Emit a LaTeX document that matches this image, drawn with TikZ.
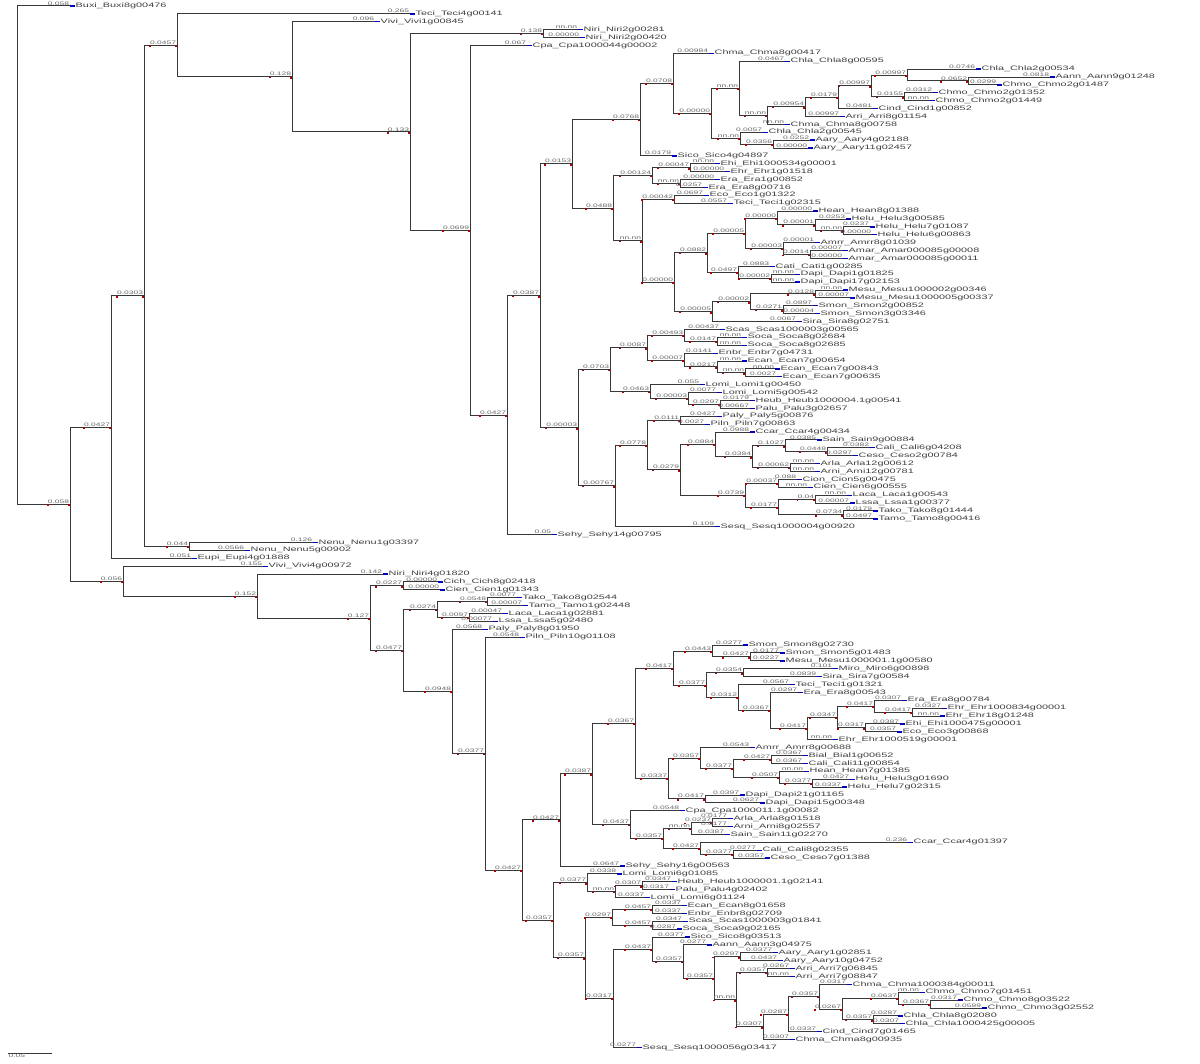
\documentclass[tikz,border=0pt]{standalone}
\usepackage{fontspec}
\newfontfamily\txfont[FakeStretch=1.7]{Liberation Sans}
\usetikzlibrary{calc,positioning}

% leaf: name, row, tip x, text
\newcommand\taxon[4]{%
  \coordinate (#1) at (#3,{6+7.89*#2});
  \node[taxon,right=5pt of #1] (#1t) {#4};}
% inner node: name, x, first child, last child
\newcommand\inode[4]{%
  \path let \p1=(#3), \p2=(#4) in coordinate (#1) at (#2pt,{(\y1+\y2)/2});}
\newcommand\leafedge[3]{%
  \draw[branch] (#1) |- (#2) node[blen] {#3};
  \draw[tipmark] (#2) -- ++(4.5,0);}
\newcommand\nodeedge[3]{%
  \draw[branch] (#1) |- (#2) node[blen] (#2b) {#3};
  \fill[nodemark] (#2) ++(-1.8,0) rectangle ++(1.8,1.8);
  \fill[nodemark] (#2b.south west) rectangle ++(1.6,1.6);}

\begin{document}
\begin{tikzpicture}[x=1pt,y=-1pt,
    branch/.style={draw=black!78,line width=1pt},
    blen/.style={font=\txfont\fontsize{5}{5}\selectfont,text=black!60,inner sep=0.4pt,anchor=south east},
    taxon/.style={font=\txfont\fontsize{6.4}{6.4}\selectfont,text=black!75,inner xsep=0.5pt,inner ysep=0pt},
    tipmark/.style={draw=blue!75!black,line width=1.3pt},
    nodemark/.style={fill=red!70!black}]
\useasboundingbox (0,0) rectangle (1200,1064);

% leaves
\taxon{l0}{0}{70}{Buxi\_Buxi8g00476}
\taxon{l1}{1}{410}{Teci\_Teci4g00141}
\taxon{l2}{2}{375}{Vivi\_Vivi1g00845}
\taxon{l3}{3}{578}{Niri\_Niri2g00281}
\taxon{l4}{4}{580}{Niri\_Niri2g00420}
\taxon{l5}{5}{527}{Cpa\_Cpa1000044g00002}
\taxon{l6}{6}{709}{Chma\_Chma8g00417}
\taxon{l7}{7}{785}{Chla\_Chla8g00595}
\taxon{l8}{8}{976}{Chla\_Chla2g00534}
\taxon{l9}{9}{1050}{Aann\_Aann9g01248}
\taxon{l10}{10}{997}{Chmo\_Chmo2g01487}
\taxon{l11}{11}{933}{Chmo\_Chmo2g01352}
\taxon{l12}{12}{930}{Chmo\_Chmo2g01449}
\taxon{l13}{13}{873}{Cind\_Cind1g00852}
\taxon{l14}{14}{840}{Arri\_Arri8g01154}
\taxon{l15}{15}{785}{Chma\_Chma8g00758}
\taxon{l16}{16}{763}{Chla\_Chla2g00545}
\taxon{l17}{17}{810}{Aary\_Aary4g02188}
\taxon{l18}{18}{808}{Aary\_Aary11g02457}
\taxon{l19}{19}{672}{Sico\_Sico4g04897}
\taxon{l20}{20}{715}{Ehi\_Ehi1000534g00001}
\taxon{l21}{21}{725}{Ehr\_Ehr1g01518}
\taxon{l22}{22}{715}{Era\_Era1g00852}
\taxon{l23}{23}{703}{Era\_Era8g00716}
\taxon{l24}{24}{704}{Eco\_Eco1g01322}
\taxon{l25}{25}{728}{Teci\_Teci1g02315}
\taxon{l26}{26}{813}{Hean\_Hean8g01388}
\taxon{l27}{27}{846}{Helu\_Helu3g00585}
\taxon{l28}{28}{870}{Helu\_Helu7g01087}
\taxon{l29}{29}{872}{Helu\_Helu6g00863}
\taxon{l30}{30}{815}{Amrr\_Amrr8g01039}
\taxon{l31}{31}{843}{Amar\_Amar000085g00008}
\taxon{l32}{32}{843}{Amar\_Amar000085g00011}
\taxon{l33}{33}{770}{Cati\_Cati1g00285}
\taxon{l34}{34}{795}{Dapi\_Dapi1g01825}
\taxon{l35}{35}{795}{Dapi\_Dapi17g02153}
\taxon{l36}{36}{843}{Mesu\_Mesu1000002g00346}
\taxon{l37}{37}{850}{Mesu\_Mesu1000005g00337}
\taxon{l38}{38}{813}{Smon\_Smon2g00852}
\taxon{l39}{39}{815}{Smon\_Smon3g03346}
\taxon{l40}{40}{797}{Sira\_Sira8g02751}
\taxon{l41}{41}{720}{Scas\_Scas1000003g00565}
\taxon{l42}{42}{742}{Soca\_Soca8g02684}
\taxon{l43}{43}{742}{Soca\_Soca8g02685}
\taxon{l44}{44}{713}{Enbr\_Enbr7g04731}
\taxon{l45}{45}{742}{Ecan\_Ecan7g00654}
\taxon{l46}{46}{775}{Ecan\_Ecan7g00843}
\taxon{l47}{47}{777}{Ecan\_Ecan7g00635}
\taxon{l48}{48}{700}{Lomi\_Lomi1g00450}
\taxon{l49}{49}{717}{Lomi\_Lomi5g00542}
\taxon{l50}{50}{750}{Heub\_Heub1000004.1g00541}
\taxon{l51}{51}{750}{Palu\_Palu3g02657}
\taxon{l52}{52}{717}{Paly\_Paly5g00876}
\taxon{l53}{53}{705}{Piln\_Piln7g00863}
\taxon{l54}{54}{750}{Ccar\_Ccar4g00434}
\taxon{l55}{55}{817}{Sain\_Sain9g00884}
\taxon{l56}{56}{870}{Cali\_Cali6g04208}
\taxon{l57}{57}{853}{Ceso\_Ceso2g00784}
\taxon{l58}{58}{815}{Arla\_Arla12g00612}
\taxon{l59}{59}{815}{Arni\_Arni12g00781}
\taxon{l60}{60}{797}{Cion\_Cion5g00475}
\taxon{l61}{61}{808}{Cien\_Cien6g00555}
\taxon{l62}{62}{847}{Laca\_Laca1g00543}
\taxon{l63}{63}{850}{Lssa\_Lssa1g00377}
\taxon{l64}{64}{873}{Tako\_Tako8g01444}
\taxon{l65}{65}{873}{Tamo\_Tamo8g00416}
\taxon{l66}{66}{715}{Sesq\_Sesq1000004g00920}
\taxon{l67}{67}{552}{Sehy\_Sehy14g00795}
\taxon{l68}{68}{313}{Nenu\_Nenu1g03397}
\taxon{l69}{69}{245}{Nenu\_Nenu5g00902}
\taxon{l70}{70}{192}{Eupi\_Eupi4g01888}
\taxon{l71}{71}{263}{Vivi\_Vivi4g00972}
\taxon{l72}{72}{383}{Niri\_Niri4g01820}
\taxon{l73}{73}{438}{Cich\_Cich8g02418}
\taxon{l74}{74}{440}{Cien\_Cien1g01343}
\taxon{l75}{75}{517}{Tako\_Tako8g02544}
\taxon{l76}{76}{523}{Tamo\_Tamo1g02448}
\taxon{l77}{77}{503}{Laca\_Laca1g02881}
\taxon{l78}{78}{493}{Lssa\_Lssa5g02480}
\taxon{l79}{79}{483}{Paly\_Paly8g01950}
\taxon{l80}{80}{520}{Piln\_Piln10g01108}
\taxon{l81}{81}{743}{Smon\_Smon8g02730}
\taxon{l82}{82}{780}{Smon\_Smon5g01483}
\taxon{l83}{83}{780}{Mesu\_Mesu1000001.1g00580}
\taxon{l84}{84}{833}{Miro\_Miro6g00898}
\taxon{l85}{85}{817}{Sira\_Sira7g00584}
\taxon{l86}{86}{790}{Teci\_Teci1g01321}
\taxon{l87}{87}{798}{Era\_Era8g00543}
\taxon{l88}{88}{902}{Era\_Era8g00784}
\taxon{l89}{89}{942}{Ehr\_Ehr1000834g00001}
\taxon{l90}{90}{940}{Ehr\_Ehr18g01248}
\taxon{l91}{91}{900}{Ehi\_Ehi1000475g00001}
\taxon{l92}{92}{897}{Eco\_Eco3g00868}
\taxon{l93}{93}{833}{Ehr\_Ehr1000519g00001}
\taxon{l94}{94}{750}{Amrr\_Amrr8g00688}
\taxon{l95}{95}{803}{Bial\_Bial1g00652}
\taxon{l96}{96}{803}{Cali\_Cali11g00854}
\taxon{l97}{97}{804}{Hean\_Hean7g01385}
\taxon{l98}{98}{850}{Helu\_Helu3g01690}
\taxon{l99}{99}{842}{Helu\_Helu7g02315}
\taxon{l100}{100}{740}{Dapi\_Dapi21g01165}
\taxon{l101}{101}{760}{Dapi\_Dapi15g00348}
\taxon{l102}{102}{680}{Cpa\_Cpa1000011.1g00082}
\taxon{l103}{103}{728}{Arla\_Arla8g01518}
\taxon{l104}{104}{728}{Arni\_Arni8g02557}
\taxon{l105}{105}{725}{Sain\_Sain11g02270}
\taxon{l106}{106}{908}{Ccar\_Ccar4g01397}
\taxon{l107}{107}{757}{Cali\_Cali8g02355}
\taxon{l108}{108}{765}{Ceso\_Ceso7g01388}
\taxon{l109}{109}{620}{Sehy\_Sehy16g00563}
\taxon{l110}{110}{617}{Lomi\_Lomi6g01085}
\taxon{l111}{111}{672}{Heub\_Heub1000001.1g02141}
\taxon{l112}{112}{670}{Palu\_Palu4g02402}
\taxon{l113}{113}{645}{Lomi\_Lomi6g01124}
\taxon{l114}{114}{682}{Ecan\_Ecan8g01658}
\taxon{l115}{115}{682}{Enbr\_Enbr8g02709}
\taxon{l116}{116}{683}{Scas\_Scas1000003g01841}
\taxon{l117}{117}{677}{Soca\_Soca9g02165}
\taxon{l118}{118}{685}{Sico\_Sico8g03513}
\taxon{l119}{119}{707}{Aann\_Aann3g04975}
\taxon{l120}{120}{773}{Aary\_Aary1g02851}
\taxon{l121}{121}{778}{Aary\_Aary10g04752}
\taxon{l122}{122}{790}{Arri\_Arri7g06845}
\taxon{l123}{123}{790}{Arri\_Arri7g08847}
\taxon{l124}{124}{847}{Chma\_Chma1000384g00011}
\taxon{l125}{125}{920}{Chmo\_Chmo7g01451}
\taxon{l126}{126}{958}{Chmo\_Chmo8g03522}
\taxon{l127}{127}{982}{Chmo\_Chmo3g02552}
\taxon{l128}{128}{898}{Chla\_Chla8g02080}
\taxon{l129}{129}{900}{Chla\_Chla1000425g00005}
\taxon{l130}{130}{817}{Cind\_Cind7g01465}
\taxon{l131}{131}{790}{Chma\_Chma8g00935}
\taxon{l132}{132}{637}{Sesq\_Sesq1000056g03417}

% inner nodes, upper clade
\inode{nx}{968}{l9}{l10}
\inode{nv}{907}{l8}{nx}
\inode{nw}{904}{l11}{l12}
\inode{nu}{871}{nv}{nw}
\inode{nt}{838}{nu}{l13}
\inode{ns}{805}{nt}{l14}
\inode{nr}{767}{ns}{l15}
\inode{np}{739}{l7}{nr}
\inode{naary}{773}{l17}{l18}
\inode{nq}{740}{l16}{naary}
\inode{nm2}{711}{np}{nq}
\inode{nm1}{673}{l6}{nm2}
\inode{nm}{640}{nm1}{l19}
\inode{nehr}{690}{l20}{l21}
\inode{nera}{680}{l22}{l23}
\inode{nn1}{652}{nehr}{nera}
\inode{ntec}{674}{l24}{l25}
\inode{nhel}{843}{l28}{l29}
\inode{nn9}{815}{l27}{nhel}
\inode{nn8}{777}{l26}{nn9}
\inode{namar}{810}{l31}{l32}
\inode{namr}{783}{l30}{namar}
\inode{nn6}{745}{nn8}{namr}
\inode{ndapi}{771}{l34}{l35}
\inode{nn7}{738}{l33}{ndapi}
\inode{nn4}{707}{nn6}{nn7}
\inode{nmesu}{815}{l36}{l37}
\inode{nsmon}{783}{l38}{l39}
\inode{nn10}{750}{nmesu}{nsmon}
\inode{nn5}{712}{nn10}{l40}
\inode{nn3}{674}{nn4}{nn5}
\inode{nn2}{642}{ntec}{nn3}
\inode{nn}{613}{nn1}{nn2}
\inode{nk1}{572}{nm}{nn}
\inode{nsc2}{717}{l42}{l43}
\inode{nsc1}{684}{l41}{nsc2}
\inode{nen3}{745}{l46}{l47}
\inode{nen2}{717}{l45}{nen3}
\inode{nen1}{684}{l44}{nen2}
\inode{nsn}{647}{nsc1}{nen1}
\inode{nlo3}{720}{l50}{l51}
\inode{nlo2}{688}{l49}{nlo3}
\inode{nlo1}{650}{l48}{nlo2}
\inode{nk3}{610}{nsn}{nlo1}
\inode{npal}{680}{l52}{l53}
\inode{ncal}{827}{l56}{l57}
\inode{nsain}{785}{l55}{ncal}
\inode{narl}{790}{l58}{l59}
\inode{nk8}{752}{nsain}{narl}
\inode{nk7}{715}{l54}{nk8}
\inode{ncio}{778}{l60}{l61}
\inode{nlac}{815}{l62}{l63}
\inode{ntak}{843}{l64}{l65}
\inode{nln}{778}{nlac}{ntak}
\inode{ncn}{745}{ncio}{nln}
\inode{nk6}{680}{nk7}{ncn}
\inode{nk5}{647}{npal}{nk6}
\inode{nk4}{615}{nk5}{l66}
\inode{nk2}{578}{nk3}{nk4}
\inode{nk}{540}{nk1}{nk2}
\inode{nj}{507}{nk}{l67}
\inode{ni}{470}{l5}{nj}
\inode{nniri}{543}{l3}{l4}
\inode{nh}{410}{nniri}{ni}
\inode{ng}{292}{l2}{nh}
\inode{ne}{177}{l1}{ng}
\inode{nf}{189}{l68}{l69}
\inode{nd}{144}{ne}{nf}
\inode{nb}{111}{nd}{l70}
% inner nodes, lower clade
\inode{ncic}{403}{l73}{l74}
\inode{ntl1}{487}{l75}{l76}
\inode{ntl2}{469}{l77}{l78}
\inode{ntl}{437}{ntl1}{ntl2}
\inode{nsm2}{750}{l82}{l83}
\inode{nsm1}{712}{l81}{nsm2}
\inode{nmi}{743}{l84}{l85}
\inode{ns8}{912}{l89}{l90}
\inode{ns7}{874}{l88}{ns8}
\inode{ns9}{865}{l91}{l92}
\inode{ns6}{837}{ns7}{ns9}
\inode{ns5}{807}{ns6}{l93}
\inode{ns4}{770}{l87}{ns5}
\inode{ns3}{738}{l86}{ns4}
\inode{ns2}{706}{nmi}{ns3}
\inode{ns1}{673}{nsm1}{ns2}
\inode{nbi}{771}{l95}{l96}
\inode{nhe2}{812}{l98}{l99}
\inode{nhe}{779}{l97}{nhe2}
\inode{nb3}{733}{nbi}{nhe}
\inode{nb2}{700}{l94}{nb3}
\inode{nda}{705}{l100}{l101}
\inode{nb1}{668}{nb2}{nda}
\inode{nc9}{635}{ns1}{nb1}
\inode{nar2}{712}{l103}{l104}
\inode{nar1}{691}{nar2}{l105}
\inode{ncal2}{733}{l107}{l108}
\inode{ncc1}{700}{l106}{ncal2}
\inode{nc11}{663}{nar1}{ncc1}
\inode{nc10}{630}{l102}{nc11}
\inode{nc8}{592}{nc9}{nc10}
\inode{nc7}{560}{nc8}{l109}
\inode{nhp2}{642}{l111}{l112}
\inode{nhp}{615}{nhp2}{l113}
\inode{nlm}{587}{l110}{nhp}
\inode{nec}{652}{l114}{l115}
\inode{nsc}{652}{l116}{l117}
\inode{nen}{612}{nec}{nsc}
\inode{naa}{740}{l120}{l121}
\inode{narr}{767}{l122}{l123}
\inode{ncm2}{930}{l126}{l127}
\inode{ncm}{898}{l125}{ncm2}
\inode{ncl}{873}{l128}{l129}
\inode{nc21}{842}{ncm}{ncl}
\inode{nc20}{819}{l124}{nc21}
\inode{nc19}{788}{nc20}{l130}
\inode{nc22}{763}{nc19}{l131}
\inode{nc18}{736}{narr}{nc22}
\inode{nc17}{714}{naa}{nc18}
\inode{nc16}{683}{l119}{nc17}
\inode{nc15}{652}{l118}{nc16}
\inode{nc14}{613}{nc15}{l132}
\inode{nc13}{585}{nen}{nc14}
\inode{nc12}{553}{nlm}{nc13}
\inode{nc6}{522}{nc7}{nc12}
\inode{nc5}{485}{l80}{nc6}
\inode{nc4}{452}{l79}{nc5}
\inode{nc3}{403}{ntl}{nc4}
\inode{nc2}{370}{ncic}{nc3}
\inode{nc1}{257}{l72}{nc2}
\inode{nc}{123}{l71}{nc1}
\inode{na}{70}{nb}{nc}
\inode{nroot}{17}{l0}{na}

% branches
\leafedge{nroot}{l0}{0.058}
\nodeedge{nroot}{na}{0.058}
\nodeedge{na}{nb}{0.0427}
\nodeedge{na}{nc}{0.056}
\nodeedge{nb}{nd}{0.0303}
\leafedge{nb}{l70}{0.051}
\nodeedge{nd}{ne}{0.0457}
\nodeedge{nd}{nf}{0.044}
\leafedge{nf}{l68}{0.126}
\leafedge{nf}{l69}{0.0566}
\leafedge{ne}{l1}{0.265}
\nodeedge{ne}{ng}{0.128}
\leafedge{ng}{l2}{0.096}
\nodeedge{ng}{nh}{0.133}
\nodeedge{nh}{nniri}{0.138}
\nodeedge{nh}{ni}{0.0699}
\leafedge{nniri}{l3}{nn.nn}
\leafedge{nniri}{l4}{0.00000}
\leafedge{ni}{l5}{0.067}
\nodeedge{ni}{nj}{0.0427}
\nodeedge{nj}{nk}{0.0387}
\leafedge{nj}{l67}{0.05}
\nodeedge{nk}{nk1}{0.0153}
\nodeedge{nk}{nk2}{0.00003}
\nodeedge{nk1}{nm}{0.0768}
\nodeedge{nk1}{nn}{0.0488}
\nodeedge{nm}{nm1}{0.0708}
\leafedge{nm}{l19}{0.0179}
\leafedge{nm1}{l6}{0.00984}
\nodeedge{nm1}{nm2}{0.00000}
\nodeedge{nm2}{np}{nn.nn}
\nodeedge{nm2}{nq}{nn.nn}
\leafedge{np}{l7}{0.0467}
\nodeedge{np}{nr}{nn.nn}
\nodeedge{nr}{ns}{0.00954}
\leafedge{nr}{l15}{nn.nn}
\nodeedge{ns}{nt}{0.0179}
\leafedge{ns}{l14}{0.00997}
\nodeedge{nt}{nu}{0.00997}
\leafedge{nt}{l13}{0.0481}
\nodeedge{nu}{nv}{0.00997}
\nodeedge{nu}{nw}{0.0155}
\leafedge{nv}{l8}{0.0746}
\nodeedge{nv}{nx}{0.0652}
\leafedge{nx}{l9}{0.0818}
\leafedge{nx}{l10}{0.0299}
\leafedge{nw}{l11}{0.0312}
\leafedge{nw}{l12}{nn.nn}
\leafedge{nq}{l16}{0.0057}
\nodeedge{nq}{naary}{0.0356}
\leafedge{naary}{l17}{0.0252}
\leafedge{naary}{l18}{0.00000}
\nodeedge{nn}{nn1}{0.00124}
\nodeedge{nn}{nn2}{nn.nn}
\nodeedge{nn1}{nehr}{0.00047}
\nodeedge{nn1}{nera}{nn.nn}
\leafedge{nehr}{l20}{nn.nn}
\leafedge{nehr}{l21}{0.00000}
\leafedge{nera}{l22}{0.00000}
\leafedge{nera}{l23}{0.0257}
\nodeedge{nn2}{ntec}{0.00042}
\nodeedge{nn2}{nn3}{0.00000}
\leafedge{ntec}{l24}{0.0697}
\leafedge{ntec}{l25}{0.0557}
\nodeedge{nn3}{nn4}{0.0882}
\nodeedge{nn3}{nn5}{0.00005}
\nodeedge{nn4}{nn6}{0.00005}
\nodeedge{nn4}{nn7}{0.0497}
\nodeedge{nn6}{nn8}{0.00000}
\nodeedge{nn6}{namr}{0.00003}
\leafedge{nn8}{l26}{0.00000}
\nodeedge{nn8}{nn9}{0.00001}
\leafedge{nn9}{l27}{0.0253}
\nodeedge{nn9}{nhel}{nn.nn}
\leafedge{nhel}{l28}{0.0237}
\leafedge{nhel}{l29}{0.00000}
\leafedge{namr}{l30}{0.00001}
\nodeedge{namr}{namar}{0.0014}
\leafedge{namar}{l31}{0.00007}
\leafedge{namar}{l32}{0.00000}
\leafedge{nn7}{l33}{0.0883}
\nodeedge{nn7}{ndapi}{0.00002}
\leafedge{ndapi}{l34}{nn.nn}
\leafedge{ndapi}{l35}{nn.nn}
\nodeedge{nn5}{nn10}{0.00002}
\leafedge{nn5}{l40}{0.0067}
\nodeedge{nn10}{nmesu}{0.0128}
\nodeedge{nn10}{nsmon}{0.0271}
\leafedge{nmesu}{l36}{nn.nn}
\leafedge{nmesu}{l37}{0.00007}
\leafedge{nsmon}{l38}{0.0897}
\leafedge{nsmon}{l39}{0.00004}
\nodeedge{nk2}{nk3}{0.0703}
\nodeedge{nk2}{nk4}{0.00767}
\nodeedge{nk3}{nsn}{0.0087}
\nodeedge{nk3}{nlo1}{0.0463}
\nodeedge{nsn}{nsc1}{0.00493}
\nodeedge{nsn}{nen1}{0.00007}
\leafedge{nsc1}{l41}{0.00437}
\nodeedge{nsc1}{nsc2}{0.0147}
\leafedge{nsc2}{l42}{nn.nn}
\leafedge{nsc2}{l43}{nn.nn}
\leafedge{nen1}{l44}{0.0141}
\nodeedge{nen1}{nen2}{0.0217}
\leafedge{nen2}{l45}{nn.nn}
\nodeedge{nen2}{nen3}{nn.nn}
\leafedge{nen3}{l46}{nn.nn}
\leafedge{nen3}{l47}{0.0027}
\leafedge{nlo1}{l48}{0.055}
\nodeedge{nlo1}{nlo2}{0.00003}
\leafedge{nlo2}{l49}{0.0077}
\nodeedge{nlo2}{nlo3}{0.0297}
\leafedge{nlo3}{l50}{0.0179}
\leafedge{nlo3}{l51}{0.00667}
\nodeedge{nk4}{nk5}{0.0778}
\leafedge{nk4}{l66}{0.109}
\nodeedge{nk5}{npal}{0.0111}
\nodeedge{nk5}{nk6}{0.0279}
\leafedge{npal}{l52}{0.0427}
\leafedge{npal}{l53}{0.0027}
\nodeedge{nk6}{nk7}{0.0884}
\nodeedge{nk6}{ncn}{0.0739}
\leafedge{nk7}{l54}{0.0988}
\nodeedge{nk7}{nk8}{0.0384}
\nodeedge{nk8}{nsain}{0.1027}
\nodeedge{nk8}{narl}{0.00062}
\leafedge{nsain}{l55}{0.0385}
\nodeedge{nsain}{ncal}{0.0448}
\leafedge{ncal}{l56}{0.0382}
\leafedge{ncal}{l57}{0.0297}
\leafedge{narl}{l58}{nn.nn}
\leafedge{narl}{l59}{nn.nn}
\nodeedge{ncn}{ncio}{0.00037}
\nodeedge{ncn}{nln}{0.0177}
\leafedge{ncio}{l60}{0.088}
\leafedge{ncio}{l61}{nn.nn}
\nodeedge{nln}{nlac}{0.04}
\nodeedge{nln}{ntak}{0.0734}
\leafedge{nlac}{l62}{nn.nn}
\leafedge{nlac}{l63}{0.00007}
\leafedge{ntak}{l64}{0.0179}
\leafedge{ntak}{l65}{0.0497}
% lower clade
\leafedge{nc}{l71}{0.155}
\nodeedge{nc}{nc1}{0.152}
\leafedge{nc1}{l72}{0.142}
\nodeedge{nc1}{nc2}{0.127}
\nodeedge{nc2}{ncic}{0.0227}
\nodeedge{nc2}{nc3}{0.0477}
\leafedge{ncic}{l73}{0.00000}
\leafedge{ncic}{l74}{0.00000}
\nodeedge{nc3}{ntl}{0.0274}
\nodeedge{nc3}{nc4}{0.0948}
\nodeedge{ntl}{ntl1}{0.0548}
\nodeedge{ntl}{ntl2}{0.0097}
\leafedge{ntl1}{l75}{0.0077}
\leafedge{ntl1}{l76}{0.00007}
\leafedge{ntl2}{l77}{0.00047}
\leafedge{ntl2}{l78}{0.00077}
\leafedge{nc4}{l79}{0.0568}
\nodeedge{nc4}{nc5}{0.0377}
\leafedge{nc5}{l80}{0.0548}
\nodeedge{nc5}{nc6}{0.0427}
\nodeedge{nc6}{nc7}{0.0427}
\nodeedge{nc6}{nc12}{0.0357}
\nodeedge{nc7}{nc8}{0.0387}
\leafedge{nc7}{l109}{0.0647}
\nodeedge{nc8}{nc9}{0.0367}
\nodeedge{nc8}{nc10}{0.0437}
\nodeedge{nc9}{ns1}{0.0417}
\nodeedge{nc9}{nb1}{0.0337}
\nodeedge{ns1}{nsm1}{0.0443}
\nodeedge{ns1}{ns2}{0.0377}
\leafedge{nsm1}{l81}{0.0277}
\nodeedge{nsm1}{nsm2}{0.0427}
\leafedge{nsm2}{l82}{0.0177}
\leafedge{nsm2}{l83}{0.0227}
\nodeedge{ns2}{nmi}{0.0354}
\nodeedge{ns2}{ns3}{0.0312}
\leafedge{nmi}{l84}{0.101}
\leafedge{nmi}{l85}{0.0839}
\leafedge{ns3}{l86}{0.0567}
\nodeedge{ns3}{ns4}{0.0367}
\leafedge{ns4}{l87}{0.0297}
\nodeedge{ns4}{ns5}{0.0417}
\nodeedge{ns5}{ns6}{0.0347}
\leafedge{ns5}{l93}{nn.nn}
\nodeedge{ns6}{ns7}{0.0417}
\nodeedge{ns6}{ns9}{0.0317}
\leafedge{ns7}{l88}{0.0307}
\nodeedge{ns7}{ns8}{0.0417}
\leafedge{ns8}{l89}{0.0327}
\leafedge{ns8}{l90}{nn.nn}
\leafedge{ns9}{l91}{0.0387}
\leafedge{ns9}{l92}{0.0357}
\nodeedge{nb1}{nb2}{0.0357}
\nodeedge{nb1}{nda}{0.0417}
\leafedge{nb2}{l94}{0.0543}
\nodeedge{nb2}{nb3}{0.0377}
\nodeedge{nb3}{nbi}{0.0427}
\nodeedge{nb3}{nhe}{0.0507}
\leafedge{nbi}{l95}{0.0367}
\leafedge{nbi}{l96}{0.0367}
\leafedge{nhe}{l97}{nn.nn}
\nodeedge{nhe}{nhe2}{0.0377}
\leafedge{nhe2}{l98}{0.0427}
\leafedge{nhe2}{l99}{0.0337}
\leafedge{nda}{l100}{0.0397}
\leafedge{nda}{l101}{0.0627}
\leafedge{nc10}{l102}{0.0548}
\nodeedge{nc10}{nc11}{0.0357}
\nodeedge{nc11}{nar1}{nn.nn}
\nodeedge{nc11}{ncc1}{0.0427}
\nodeedge{nar1}{nar2}{0.0237}
\leafedge{nar1}{l105}{0.0387}
\leafedge{nar2}{l103}{0.0177}
\leafedge{nar2}{l104}{0.0177}
\leafedge{ncc1}{l106}{0.236}
\nodeedge{ncc1}{ncal2}{0.0377}
\leafedge{ncal2}{l107}{0.0277}
\leafedge{ncal2}{l108}{0.0357}
\nodeedge{nc12}{nlm}{0.0377}
\nodeedge{nc12}{nc13}{0.0357}
\leafedge{nlm}{l110}{0.0338}
\nodeedge{nlm}{nhp}{nn.nn}
\nodeedge{nhp}{nhp2}{0.0307}
\leafedge{nhp}{l113}{0.0337}
\leafedge{nhp2}{l111}{0.0347}
\leafedge{nhp2}{l112}{0.0317}
\nodeedge{nc13}{nen}{0.0297}
\nodeedge{nc13}{nc14}{0.0317}
\nodeedge{nen}{nec}{0.0457}
\nodeedge{nen}{nsc}{0.0457}
\leafedge{nec}{l114}{0.0337}
\leafedge{nec}{l115}{0.0337}
\leafedge{nsc}{l116}{0.0347}
\leafedge{nsc}{l117}{0.0287}
\nodeedge{nc14}{nc15}{0.0437}
\leafedge{nc14}{l132}{0.0277}
\leafedge{nc15}{l118}{0.0377}
\nodeedge{nc15}{nc16}{0.0357}
\leafedge{nc16}{l119}{0.0277}
\nodeedge{nc16}{nc17}{0.0357}
\nodeedge{nc17}{naa}{0.0297}
\nodeedge{nc17}{nc18}{nn.nn}
\leafedge{naa}{l120}{0.0377}
\leafedge{naa}{l121}{0.0437}
\nodeedge{nc18}{narr}{0.0357}
\nodeedge{nc18}{nc22}{0.0307}
\leafedge{narr}{l122}{0.0267}
\leafedge{narr}{l123}{nn.nn}
\nodeedge{nc22}{nc19}{0.0287}
\leafedge{nc22}{l131}{0.0307}
\nodeedge{nc19}{nc20}{0.0357}
\leafedge{nc19}{l130}{0.0337}
\leafedge{nc20}{l124}{0.0317}
\nodeedge{nc20}{nc21}{0.0267}
\nodeedge{nc21}{ncm}{0.0637}
\nodeedge{nc21}{ncl}{0.0357}
\leafedge{ncm}{l125}{nn.nn}
\nodeedge{ncm}{ncm2}{0.0367}
\leafedge{ncm2}{l126}{0.0317}
\leafedge{ncm2}{l127}{0.0589}
\leafedge{ncl}{l128}{0.0287}
\leafedge{ncl}{l129}{0.0307}

% scale bar
\coordinate (sbl) at (8,1053);
\coordinate (sbr) at (52,1053);
\draw[branch] (sbl) -- (sbr);
\node[blen,anchor=north west] (sbt) at (sbl) {0.05};
\end{tikzpicture}
\end{document}
